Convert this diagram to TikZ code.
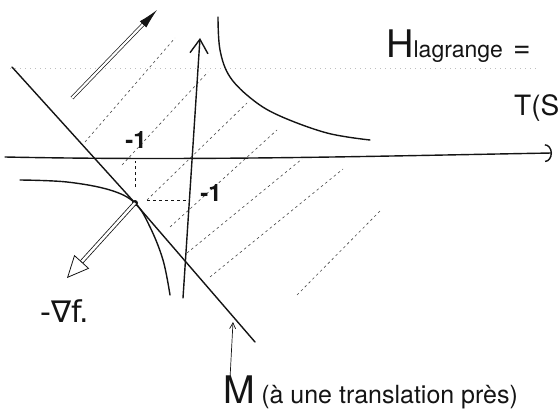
\documentclass[tikz,border=0pt]{standalone}
\usepackage{fontspec}
\setmainfont{TeX Gyre Heros}
\newfontfamily\symfont{DejaVu Sans}
\usepackage{tikz}
\usetikzlibrary{arrows.meta,calc,positioning}
\definecolor{pencil}{RGB}{20,20,20}
\definecolor{hatchgray}{RGB}{70,70,70}

\tikzset{
  pen/.style={draw=pencil, line width=1.4pt, line cap=round, line join=round},
  hatchline/.style={draw=hatchgray, line width=0.6pt, dash pattern=on 2.5pt off 3pt},
  handtext/.style={text=pencil, inner sep=0pt, anchor=base west},
}

\begin{document}
\begin{tikzpicture}[x=1pt, y=-1pt]

% Frame
\useasboundingbox (0,0) rectangle (559,412);

% Faint ruled line of the paper
\draw[black!25, line width=0.5pt, dash pattern=on 1pt off 4pt] (10,68) -- (537,68);

% Hatched region
\foreach \xa/\ya/\xb/\yb in {85/142/175/38, 122/165/208/72, 147/200/247/103,
                             170/227/277/130, 187/253/302/159, 210/277/343/169,
                             297/295/380/211} {
  \draw[hatchline] (\xa,\ya) -- (\xb,\yb);
}

% Upper-left hollow arrow
\coordinate (ultail) at (72,98);
\coordinate (ulhead) at (157,10);
\draw[pencil, double, double distance=2.2pt, line width=0.7pt,
      -{Latex[length=20pt,width=9pt]}] (ultail) -- (ulhead);

% Axes
\draw[pen, -{Arc Barb[length=7pt,width=18pt]}]
  (5,157) .. controls (200,161) and (380,156) .. (552,153);
\draw[pen, -{Straight Barb[length=14pt,width=18pt]}] (183,298) -- (200,38);

% Hyperbola branches
\draw[pen] plot[smooth, tension=0.6] coordinates
  {(218,17) (220,50) (230,77) (253,100) (280,116) (327,133) (370,140)};
\draw[pen] plot[smooth, tension=0.6] coordinates
  {(20,180) (67,182) (110,190) (135,203) (150,227) (163,260) (170,295)};

% Affine line M
\coordinate (P) at (135,203);
\draw[pen] (12,67) -- (P) -- (255,342);

% Tangent point
\fill[pencil] (P) circle (3pt);

% Projections on the axes
\draw[pencil, line width=0.8pt, dash pattern=on 3pt off 3pt] (135,187) -- (135,161);
\draw[pencil, line width=0.8pt, dash pattern=on 3pt off 3pt] (147,200) -- (189,200);
\node[text=pencil, font=\fontsize{24}{24}\selectfont\bfseries] (xone) at (136,140) {-1};
\node[text=pencil, font=\fontsize{24}{24}\selectfont\bfseries] (yone) at (211,193) {-1};

% Minus gradient
\coordinate (gradtip) at (67,278);
\draw[pencil, double, double distance=2.5pt, line width=0.8pt,
      -{Triangle[open, length=22pt, width=20pt]}] (P) -- (gradtip);
\node[handtext, font=\fontsize{30}{30}\symfont] (gradlab) at (40,322) {-∇f.};

% Title
\node[handtext] (hlag) at (386,57)
  {{\fontsize{38}{38}\selectfont H}{\fontsize{23}{23}\selectfont lagrange}\hspace{10pt}{\fontsize{30}{30}\selectfont =}};
\node[handtext, font=\fontsize{28}{28}\selectfont] (tsq) at (514,115) {T(S};

% Caption for M
\node[handtext, font=\fontsize{38}{38}\selectfont] (mlet) at (223,403) {M};
\node[handtext, font=\fontsize{25}{25}\selectfont, anchor=base west] (mtext)
  at ([xshift=6pt]mlet.base east) {(à une translation près)};
\coordinate (mtip) at (233,322);
\draw[pencil, line width=0.7pt, -{Straight Barb[length=6pt,width=6pt]}]
  ([xshift=-9pt, yshift=-3pt]mlet.north) -- (mtip);

\end{tikzpicture}
\end{document}
